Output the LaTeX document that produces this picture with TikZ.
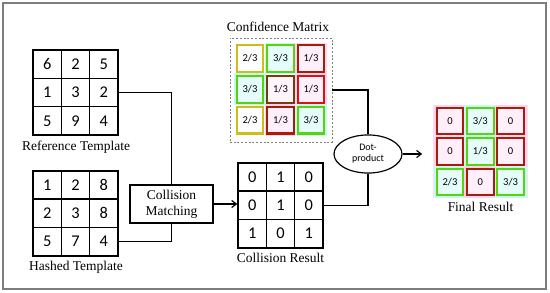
\documentclass[tikz,border=0pt]{standalone}
\usepackage{fontspec}
\setmainfont{Liberation Serif}
\newfontfamily\calfont{Carlito}
\usepackage{tikz}
\usetikzlibrary{shapes.geometric, arrows.meta, positioning}
\definecolor{cellyellow}{RGB}{205,190,25}
\definecolor{cellgreen}{RGB}{90,210,15}
\definecolor{cellred}{RGB}{170,28,10}
\definecolor{cellbrown}{RGB}{120,60,10}
\definecolor{cellbright}{RGB}{215,20,18}
\definecolor{halopink}{RGB}{255,210,240}
\definecolor{halocyan}{RGB}{195,250,242}
\definecolor{framegray}{RGB}{125,125,125}

\tikzset{
  gridcell/.style={draw, line width=1.2pt, minimum size=0.85cm, inner sep=0pt,
    font=\calfont\fontsize{14}{16}\selectfont},
  fraccell/.style={line width=1.9pt, minimum size=0.8cm, inner sep=0pt,
    font=\calfont\fontsize{9}{10}\selectfont},
  yelcell/.style={fraccell, draw=cellyellow, fill=white},
  grncell/.style={fraccell, draw=cellgreen, fill=halocyan!45,
    preaction={draw=halocyan, line width=4.5pt}},
  redcell/.style={fraccell, draw=cellred, fill=halopink!35,
    preaction={draw=halopink, line width=4.5pt}},
  brncell/.style={fraccell, draw=cellbrown, fill=halopink!25},
  brtcell/.style={fraccell, draw=cellbright, fill=halopink!35,
    preaction={draw=halopink, line width=4.5pt}},
  caption/.style={font=\fontsize{11.5}{13.5}\selectfont},
  link/.style={line width=1pt},
  tip/.style={link, -{Straight Barb[length=4pt, width=6pt]}}
}

\begin{document}
\begin{tikzpicture}[x=0.03cm, y=-0.03cm]
\useasboundingbox (0,0) rectangle (550,293);
\draw[framegray, line width=1.2pt] (3,3) rectangle (546,289);
% Input templates
\foreach \v [count=\i from 0] in {6,2,5,1,3,2,5,9,4} {
  \pgfmathtruncatemacro\r{int(\i/3)+1}
  \pgfmathtruncatemacro\c{mod(\i,3)+1}
  \node[gridcell] (ref-\r-\c) at (47.2+28.33*\c-28.33, 64.2+28.33*\r-28.33) {\v};
}
\node[caption] (reflabel) at (76,147) {Reference Template};
\foreach \v [count=\i from 0] in {1,2,8,2,3,8,5,7,4} {
  \pgfmathtruncatemacro\r{int(\i/3)+1}
  \pgfmathtruncatemacro\c{mod(\i,3)+1}
  \node[gridcell] (hash-\r-\c) at (47.2+28.33*\c-28.33, 185+28.33*\r-28.33) {\v};
}
\node[caption] (hashlabel) at (76,267) {Hashed Template};
% Matching
\node[draw, line width=1pt, minimum width=2.49cm, minimum height=1.14cm,
  align=center, caption] (match) at (171.5,204) {Collision\\Matching};
\foreach \v [count=\i from 0] in {0,1,0,0,1,0,1,0,1} {
  \pgfmathtruncatemacro\r{int(\i/3)+1}
  \pgfmathtruncatemacro\c{mod(\i,3)+1}
  \node[gridcell] (coll-\r-\c) at (252.2+28.33*\c-28.33, 177+28.33*\r-28.33) {\v};
}
\node[caption] (colllabel) at (280.5,258) {Collision Result};
% Confidence matrix
\node[draw=gray, line width=0.7pt, dash pattern=on 1.6pt off 1.6pt,
  minimum width=3.06cm, minimum height=3.12cm] (confbox) at (281,90) {};
\node[caption] (conflabel) at (278,27) {Confidence Matrix};
\foreach \v/\s [count=\i from 0] in {{2/3}/yelcell, {3/3}/grncell, {1/3}/redcell,
    {3/3}/grncell, {1/3}/brncell, {1/3}/brtcell,
    {2/3}/yelcell, {1/3}/redcell, {3/3}/grncell} {
  \pgfmathtruncatemacro\r{int(\i/3)+1}
  \pgfmathtruncatemacro\c{mod(\i,3)+1}
  \node[\s] (conf-\r-\c) at (250+30.5*\c-30.5, 58.5+30.8*\r-30.8) {\v};
}
% Dot product
\node[ellipse, draw, line width=1pt, minimum width=2.04cm, minimum height=1.02cm,
  align=center, font=\calfont\fontsize{8.5}{9.5}\selectfont] (dot) at (368,154) {Dot-\\product};
% Final result
\node[fill=halopink!70, minimum width=2.85cm, minimum height=2.79cm] (finalbox) at (480.5,151.5) {};
\foreach \v/\s [count=\i from 0] in {0/redcell, {3/3}/grncell, 0/redcell,
    0/redcell, {1/3}/grncell, 0/redcell,
    {2/3}/grncell, 0/redcell, {3/3}/grncell} {
  \pgfmathtruncatemacro\r{int(\i/3)+1}
  \pgfmathtruncatemacro\c{mod(\i,3)+1}
  \node[\s] (final-\r-\c) at (450+30.3*\c-30.3, 121+30.5*\r-30.5) {\v};
}
\node[caption] (finallabel) at (480.5,207) {Final Result};
% Connectors
\draw[link] (ref-2-3.east) -| (match.north);
\draw[link] (hash-3-3.east) -| (match.south);
\draw[tip] (match.east) -- (match.east -| coll-2-1.west);
\draw[link] (coll-2-3.east) -| (dot.south);
\draw[link] (confbox.east) -| (dot.north);
\draw[tip, shorten >=9pt] (dot.east) -- (dot.east -| finalbox.west);
\end{tikzpicture}
\end{document}
